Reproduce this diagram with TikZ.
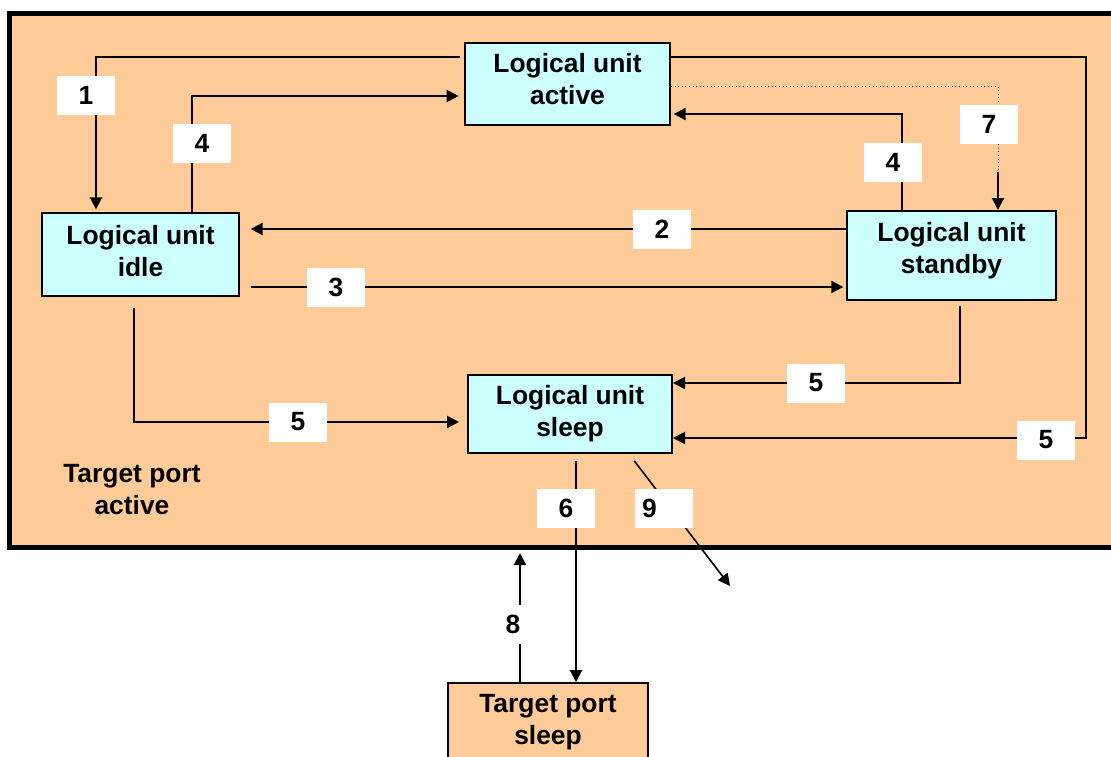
\documentclass[tikz,border=0pt]{standalone}
\usepackage{fontspec}
\setmainfont{Liberation Sans}
\usetikzlibrary{arrows.meta}
\definecolor{portbg}{RGB}{255,204,153}
\definecolor{unitbg}{RGB}{204,255,255}
\begin{document}
\begin{tikzpicture}[x=0.75pt, y=-0.75pt,
    every node/.style={font=\fontsize{19.8}{24}\selectfont\bfseries},
    unit/.style={draw, line width=1.5pt, fill=unitbg, align=center, inner sep=0pt},
    port/.style={draw, line width=1.5pt, fill=portbg, align=center, inner sep=0pt},
    lbl/.style={fill=white, inner sep=0pt, minimum width=43.5pt, minimum height=29.25pt},
    arr/.style={line width=1.5pt, -{Triangle[length=9pt, width=9pt]}}]
    \useasboundingbox (0,0) rectangle (1111,757);
    \clip (0,0) rectangle (1111,757);
    \node[draw, fill=portbg, line width=3.75pt, minimum width=837pt, minimum height=400.5pt] (tpa) at (567,280) {};
    \node[align=center] (tpatxt) at (132,490) {Target port\\active};
    \node[unit, minimum width=153.75pt, minimum height=61.5pt, text depth=7.5pt] (act) at (567.5,84) {Logical unit\\active};
    \node[unit, minimum width=147.75pt, minimum height=62.25pt, text depth=5.25pt] (idle) at (140.5,254.5) {Logical unit\\idle};
    \node[unit, minimum width=156.75pt, minimum height=66.75pt, text depth=11.7pt] (stby) at (951.5,255.5) {Logical unit\\standby};
    \node[unit, minimum width=153pt, minimum height=58.5pt] (slp) at (570,414) {Logical unit\\sleep};
    \node[port, minimum width=150pt, minimum height=59.25pt] (tps) at (548,722.5) {Target port\\sleep};
    \coordinate (c7) at (998,172);
    \coordinate (e8) at (520,553);
    \coordinate (e9) at (730,586);
    \draw[arr, shorten <=3pt, shorten >=2pt] (act.west |- 0,57) -| (idle.north -| 96,0);
    \draw[arr, shorten >=4pt] (idle.north -| 192,0) |- (act.west |- 0,96);
    \draw[arr, shorten >=8pt] (stby.west |- 0,229) -- (idle.east |- 0,229);
    \draw[arr, shorten <=8pt, shorten >=2pt] (idle.east |- 0,287) -- (stby.west |- 0,287);
    \draw[arr, shorten >=2pt] (stby.north -| 902,0) |- (act.east |- 0,114);
    \draw[dotted, line width=0.7pt] (act.east |- 0,86) -| (c7);
    \draw[arr] (c7) -- (stby.north -| c7);
    \draw[arr] (act.east |- 0,57) -| (1086,438) -- (slp.east |- 0,438);
    \draw[arr, shorten <=4pt] (stby.south -| 960,0) |- (slp.east |- 0,383);
    \draw[arr, shorten <=8pt, shorten >=6pt] (idle.south -| 134,0) |- (slp.west |- 0,422);
    \draw[arr, shorten <=5pt] (slp.south -| 576,0) -- (tps.north -| 576,0);
    \draw[arr, line width=1.2pt, shorten <=6.5pt] (slp.south -| 629,0) -- (e9);
    \draw[arr] (tps.north -| e8) -- (e8);
    \node[lbl] (l1) at (86,95) {1};
    \node[lbl] (l4a) at (202,143) {4};
    \node[lbl] (l2) at (662,229) {2};
    \node[lbl] (l3) at (336,287) {3};
    \node[lbl] (l4b) at (893,162) {4};
    \node[lbl] (l7) at (989,124) {7};
    \node[lbl] (l5a) at (298,422) {5};
    \node[lbl] (l5b) at (816,383) {5};
    \node[lbl] (l5c) at (1046,440) {5};
    \node[lbl] (l6) at (566,508) {6};
    \node[lbl, text width=33pt, align=left, inner xsep=5pt] (l9) at (664,508) {9};
    \node[lbl] (l8) at (513,624) {8};
\end{tikzpicture}
\end{document}
